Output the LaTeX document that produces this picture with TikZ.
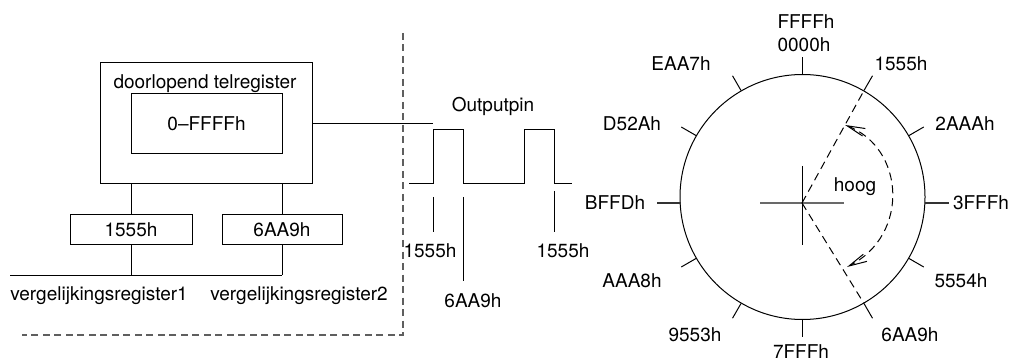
\documentclass[tikz,border=0pt]{standalone}
\usepackage{fontspec}
\setmainfont{TeX Gyre Heros}
\usetikzlibrary{arrows.meta, positioning, calc}
\definecolor{SepGray}{RGB}{95, 95, 95}
\definecolor{CrossGray}{RGB}{105, 105, 105}

\begin{document}
\begin{tikzpicture}[
        x=1pt, y=-1pt,
        every node/.style={font=\fontsize{19}{22}\selectfont, inner sep=0pt},
        regbox/.style={draw, line width=1pt, align=center},
        link/.style={line width=1pt},
        wave/.style={line width=1pt},
        guide/.style={SepGray, line width=1.2pt, dash pattern=on 7pt off 4.5pt},
        radial/.style={line width=1pt, dash pattern=on 8pt off 5pt},
        tickline/.style={line width=1pt},
        sidetick/.style={line width=1.6pt, black!80},
        both/.style={{Straight Barb[length=18pt, width=8pt]}-{Straight Barb[length=18pt, width=8pt]}}
    ]
        \useasboundingbox (0,0) rectangle (1011,363);

        % counter with its compare registers
        \node[regbox, minimum width=212pt, minimum height=121pt] (counter) at (206,123.5) {};
        \node[anchor=base] (countertitle) at (205,89) {doorlopend telregister};
        \node[regbox, minimum width=151pt, minimum height=60pt] (range) at (206.5,124) {0--FFFFh};
        \node[regbox, minimum width=122pt, minimum height=30pt] (cmpA) at (131,230) {1555h};
        \node[regbox, minimum width=120pt, minimum height=30pt] (cmpB) at (282,230) {6AA9h};
        \coordinate (busL) at (10,275);
        \coordinate (busR) at (cmpB.south |- busL);

        \draw[link] (counter.south -| cmpA) -- (cmpA.north);
        \draw[link] (counter.south -| cmpB) -- (cmpB.north);
        \draw[link] (cmpA.south) -- (cmpA.south |- busL);
        \draw[link] (cmpB.south) -- (busR);
        \draw[link] (busL) -- (busR);

        \node[anchor=base] (regA) at (99,300) {vergelijkingsregister1};
        \node[anchor=base] (regB) at (299,300) {vergelijkingsregister2};

        \draw[guide] (403,33) -- (403,335) -- (22,335);

        % output pin
        \coordinate (pin) at (433,123.5);
        \draw[link] (counter.east) -- (pin);
        \node[anchor=base] (outpin) at (493,112) {Outputpin};
        \draw[wave] (409,184) -- (433,184) -- (433,130) -- (463,130) -- (463,184)
            -- (524,184) -- (524,130) -- (554,130) -- (554,184) -- (572,184);

        \draw[tickline] (433,197) -- (433,232);
        \draw[tickline] (463,197) -- (463,281);
        \draw[tickline] (554,191) -- (554,232);
        \node[anchor=base] (onA) at (430,258) {1555h};
        \node[anchor=base] (offB) at (473,307) {6AA9h};
        \node[anchor=base] (onC) at (563,258) {1555h};

        % counter wheel
        \node[draw, circle, line width=1pt, minimum size=245pt] (wheel) at (802.5,197) {};
        \coordinate (hub) at (802,203);
        \draw[CrossGray, line width=1.6pt] ($(hub)+(-42,0)$) -- ($(hub)+(42,0)$);
        \draw[link] ($(hub)+(0,-37)$) -- ($(hub)+(0,42)$);

        \foreach \a in {30,60,90,120,150,210,240,270,300,330}
            \draw[tickline] (wheel.\a) -- ($(wheel.\a)!-17pt!(wheel.center)$);
        \draw[sidetick] ($(hub -| wheel.west)+(1,0)$) -- ++(-24,0);
        \draw[sidetick] ($(hub -| wheel.east)+(-1,0)$) -- ++(24,0);

        \draw[radial] (hub) -- (wheel.60);
        \draw[radial] (hub) -- (wheel.-60);

        \coordinate (arcTop) at (845,125);
        \coordinate (arcBot) at (847,267);
        \draw[radial, both] (arcTop) .. controls (905,148) and (910,235) .. (arcBot);
        \node[anchor=base] (high) at (855,192) {hoog};

        \node (tFFFF) at (806,22) {FFFFh};
        \node (t0000) at (804,45) {0000h};
        \node (t1555) at (901,64) {1555h};
        \node (t2AAA) at (965,124) {2AAAh};
        \node (t3FFF) at (981,203) {3FFFh};
        \node (t5554) at (961,281) {5554h};
        \node (t6AA9) at (910,335) {6AA9h};
        \node (t7FFF) at (801,352) {7FFFh};
        \node (t9553) at (695,335) {9553h};
        \node (tAAA8) at (632,281) {AAA8h};
        \node (tBFFD) at (615,203) {BFFDh};
        \node (tD52A) at (632,124) {D52Ah};
        \node (tEAA7) at (681,64) {EAA7h};
    \end{tikzpicture}
\end{document}
